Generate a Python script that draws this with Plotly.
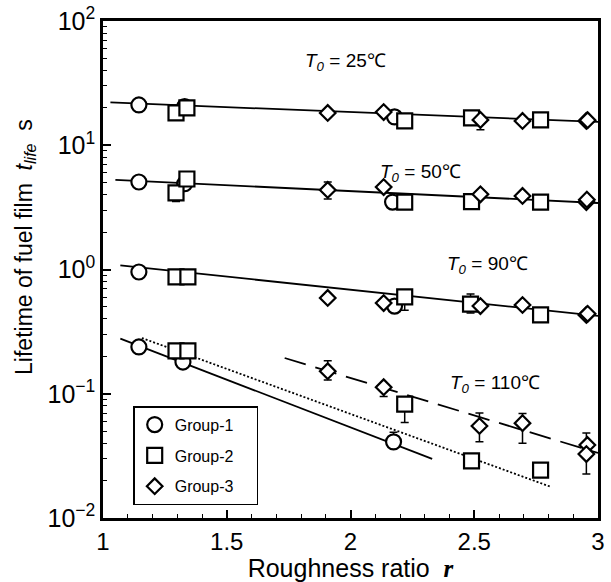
import math
import plotly.graph_objects as go

# ---------------- data ----------------
# Group-1 (circles)
g1_x = [1.145, 1.33, 2.178, 1.145, 1.33, 2.17, 1.145, 2.178, 1.145, 1.323, 2.174]
g1_y = [21.1, 20.5, 16.9, 5.06, 4.9, 3.49, 0.955, 0.508, 0.238, 0.180, 0.041]
g1_ep = [0, 0, 0, 0, 0, 0, 0, 0, 0, 0, 0.008]
g1_em = [0, 0, 0, 0, 0, 0, 0, 0, 0, 0, 0]

# Group-2 (squares)
g2_x = [1.295, 1.339, 2.219, 2.489, 2.768,
        1.295, 1.339, 2.219, 2.489, 2.768,
        1.295, 1.343, 2.219, 2.485, 2.768,
        1.295, 1.343, 2.219, 2.489, 2.768]
g2_y = [18.2, 20.0, 15.7, 16.6, 16.0,
        4.13, 5.35, 3.49, 3.52, 3.49,
        0.871, 0.871, 0.601, 0.527, 0.431,
        0.221, 0.221, 0.0826, 0.0288, 0.0243]
g2_ep = [0, 0, 0, 0, 0,
         0, 0, 0, 0, 0,
         0, 0, 0, 0.108, 0,
         0, 0, 0, 0, 0]
g2_em = [0, 0, 0, 0, 0,
         0.6, 0, 0, 0, 0,
         0, 0.09, 0.13, 0.08, 0,
         0, 0, 0.024, 0, 0]

# Group-3 (diamonds)
g3_x = [1.908, 2.134, 2.525, 2.695, 2.953, 2.958,
        1.908, 2.134, 2.525, 2.695, 2.953, 2.955,
        1.908, 2.134, 2.525, 2.695, 2.953, 2.958,
        1.908, 2.134, 2.521, 2.695, 2.957, 2.953]
g3_y = [18.2, 18.5, 16.0, 15.7, 15.7, 15.9,
        4.37, 4.61, 4.03, 3.91, 3.49, 3.65,
        0.590, 0.537, 0.508, 0.518, 0.431, 0.44,
        0.152, 0.113, 0.055, 0.058, 0.0387, 0.0327]
g3_ep = [0, 0, 0, 0, 0, 0,
         0.7, 0, 0, 0, 0, 0,
         0, 0, 0, 0, 0, 0,
         0.032, 0, 0.015, 0.0115, 0, 0.0156]
g3_em = [0, 0, 2.7, 0, 0, 0,
         0.68, 0, 0, 0, 0, 0,
         0, 0, 0, 0, 0, 0,
         0.023, 0.018, 0.014, 0.018, 0, 0.0101]

# fitted lines
line25_x, line25_y = [1.03, 3.0], [22.1, 15.4]
line50_x, line50_y = [1.05, 3.0], [5.27, 3.43]
line90_x, line90_y = [1.07, 3.0], [1.08, 0.423]
line110_x, line110_y = [1.07, 2.33], [0.278, 0.0299]
dot110_x, dot110_y = [1.157, 2.81], [0.281, 0.0178]
dash110_x, dash110_y = [1.734, 3.0], [0.194, 0.0334]

labels = ["<i>T</i><sub><i>0</i></sub> = 25℃", "<i>T</i><sub><i>0</i></sub> = 50℃",
          "<i>T</i><sub><i>0</i></sub> = 90℃", "<i>T</i><sub><i>0</i></sub> = 110℃"]
label_x = [1.81, 2.11, 2.38, 2.395]
label_y = [46.5, 6.0, 1.09, 0.12]

y_tickvals = [0.01, 0.1, 1, 10, 100]
y_ticktext = ["10<sup>−2</sup>", "10<sup>−1</sup>", "10<sup>0</sup>", "10<sup>1</sup>", "10<sup>2</sup>"]
x_tickvals = [1, 1.5, 2, 2.5, 3]
x_ticktext = ["1", "1.5", "2", "2.5", "3"]

x_title = "Roughness ratio  <span style=\"font-family:'Liberation Serif'\"><b><i>r</i></b></span>"
y_title = "Lifetime of fuel film  <i>t</i><sub><i>life</i></sub>  s"

FONT = "Liberation Sans, Arial, sans-serif"
NB = "\u00a0"

fig = go.Figure()

for lx, ly in [(line25_x, line25_y), (line50_x, line50_y), (line90_x, line90_y), (line110_x, line110_y)]:
    fig.add_trace(go.Scatter(x=lx, y=ly, mode="lines", line=dict(color="black", width=1.8),
                             showlegend=False, hoverinfo="skip"))
fig.add_trace(go.Scatter(x=dot110_x, y=dot110_y, mode="lines",
                         line=dict(color="black", width=1.8, dash="2px,2px"), showlegend=False))
fig.add_trace(go.Scatter(x=dash110_x, y=dash110_y, mode="lines",
                         line=dict(color="black", width=1.8, dash="22px,10px"), showlegend=False))

def add_group(x, y, ep, em, symbol, size, name):
    fig.add_trace(go.Scatter(
        x=x, y=y, mode="markers", name=name + NB * 4, legendgroup=name,
        marker=dict(symbol=symbol, size=size, color="white",
                    line=dict(color="black", width=2.2)),
        error_y=dict(type="data", symmetric=False, array=ep, arrayminus=em,
                     color="black", thickness=1.5, width=4),
    ))

add_group(g1_x, g1_y, g1_ep, g1_em, "circle", 15, "Group-1")
add_group(g2_x, g2_y, g2_ep, g2_em, "square", 15, "Group-2")
add_group(g3_x, g3_y, g3_ep, g3_em, "diamond", 12, "Group-3")

for t, lx, ly in zip(labels, label_x, label_y):
    fig.add_annotation(x=lx, y=math.log10(ly), yref="y", xref="x", text=t, showarrow=False,
                       xanchor="left", yanchor="middle",
                       font=dict(size=19, color="black", family=FONT))

# y-axis title as rotated annotation (placed slightly above centre like the reference)
fig.add_annotation(x=-0.158, y=0.545, xref="paper", yref="paper", text=y_title,
                   textangle=-90, showarrow=False, xanchor="center", yanchor="middle",
                   font=dict(size=23, color="black", family=FONT))

fig.update_layout(
    width=611, height=582,
    margin=dict(l=103, r=13, t=21, b=64, autoexpand=False),
    paper_bgcolor="white", plot_bgcolor="white",
    font=dict(family=FONT, color="black", size=20),
    legend=dict(x=0.061, y=0.225, xanchor="left", yanchor="top",
                bordercolor="black", borderwidth=1.5, bgcolor="white",
                font=dict(size=16, family=FONT), itemwidth=30,
                tracegroupgap=7),
    showlegend=True,
)
fig.update_xaxes(
    range=[1, 3], tickvals=x_tickvals, ticktext=x_ticktext, automargin=False,
    ticks="inside", ticklen=8, tickwidth=1.5, tickcolor="black",
    showline=True, linewidth=2.5, linecolor="black", mirror=True,
    showgrid=False, zeroline=False, tickfont=dict(size=24),
    minor=dict(ticks="inside", ticklen=4, tickwidth=1.2, tickcolor="black", dtick=0.1, showgrid=False),
    title=dict(text=x_title, font=dict(size=25), standoff=6),
)
fig.update_yaxes(
    type="log", range=[-2, 2], tickvals=y_tickvals, ticktext=y_ticktext, automargin=False,
    ticks="inside", ticklen=8, tickwidth=1.5, tickcolor="black",
    showline=True, linewidth=2.5, linecolor="black", mirror=True,
    showgrid=False, zeroline=False, tickfont=dict(size=25),
    minor=dict(ticks="inside", ticklen=4, tickwidth=1.2, tickcolor="black",
               tickvals=[m * 10 ** e for e in range(-2, 2) for m in range(2, 10)], showgrid=False),
)

fig.write_html("out.html")
